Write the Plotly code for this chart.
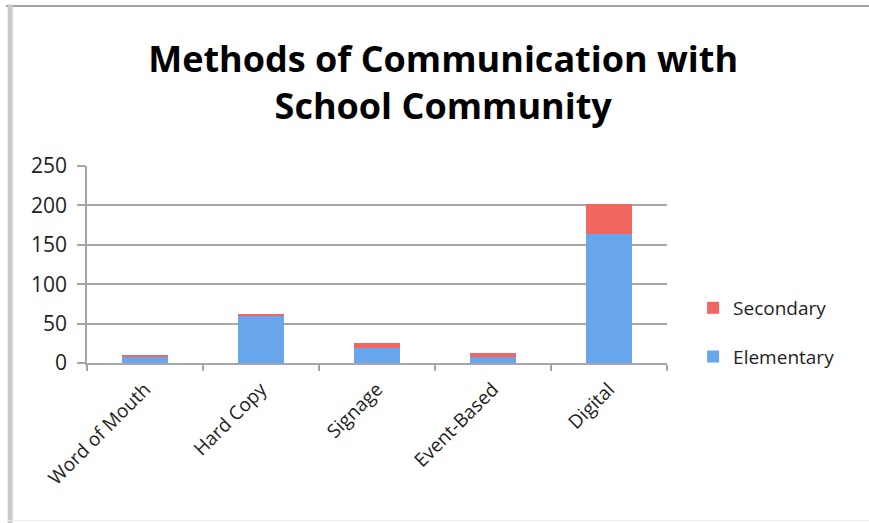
import plotly.graph_objects as go

categories = ["Word of Mouth", "Hard Copy", "Signage", "Event-Based", "Digital"]
elementary = [7, 60, 19, 7, 164]
secondary = [3, 2, 6, 6, 38]
y_ticks = [0, 50, 100, 150, 200, 250]

FONT = "Open Sans, Lato, sans-serif"
TXT = "#1e1e1e"

fig = go.Figure()
fig.add_trace(go.Bar(x=categories, y=elementary, name="Elementary", legendgroup="e",
                     legendrank=2, marker=dict(color="#67a5ec", line=dict(width=0))))
fig.add_trace(go.Bar(x=categories, y=secondary, name="Secondary", legendgroup="s",
                     legendrank=1, marker=dict(color="#f26661", line=dict(width=0))))

fig.update_layout(
    barmode="stack",
    bargap=0.6,
    width=869, height=523,
    margin=dict(l=87, r=202, t=166, b=160),
    paper_bgcolor="white", plot_bgcolor="white",
    font=dict(family=FONT, color=TXT),
    title=dict(text="<b>Methods of Communication with<br>School Community</b>",
               x=0.51, xanchor="center", xref="container",
               y=1 - 72 / 523, yanchor="middle", yref="container",
               font=dict(size=36, color="#000000", family=FONT)),
    legend=dict(traceorder="grouped", x=1.045, y=0.155, xanchor="left",
                yanchor="middle", font=dict(size=19, color=TXT), itemwidth=30,
                tracegroupgap=21, bgcolor="rgba(0,0,0,0)"),
    showlegend=True,
    shapes=[
        dict(type="line", xref="paper", yref="paper", x0=-0.14, x1=1.36,
             y0=1.812, y1=1.812, line=dict(color="#a3a3a3", width=2)),
        dict(type="line", xref="paper", yref="paper", x0=-0.1325, x1=-0.1325,
             y0=1.82, y1=-0.85, line=dict(color="#cacaca", width=5)),
        dict(type="line", xref="paper", yref="paper", x0=-0.14, x1=1.36,
             y0=-0.8, y1=-0.8, line=dict(color="#ececec", width=1)),
    ],
)
fig.update_xaxes(showline=True, linecolor="#a6a6a6", linewidth=1.5,
                 ticks="outside", tickson="boundaries", ticklen=6, tickcolor="#a6a6a6",
                 tickwidth=1.5, tickangle=-45, tickfont=dict(size=19, color=TXT),
                 ticklabelstandoff=6, showgrid=False)
fig.update_yaxes(range=[0, 250], tickvals=y_ticks, showline=True, linecolor="#a6a6a6",
                 linewidth=1.5, gridcolor="#a6a6a6", gridwidth=1.5,
                 ticks="outside", ticklen=8, tickcolor="#a6a6a6", tickwidth=1.5,
                 tickfont=dict(size=21, color=TXT), ticklabelstandoff=6, zeroline=False)

fig.write_html("out.html", config={"displayModeBar": False},
               post_script="document.body.style.margin='0';")
